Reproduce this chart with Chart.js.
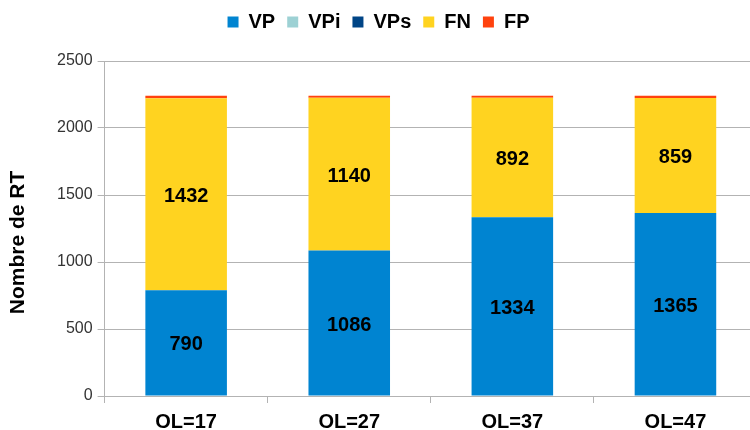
<!DOCTYPE html>
<html>
<head>
<meta charset="utf-8">
<script src="https://cdn.jsdelivr.net/npm/chart.js@4"></script>
<style>
    html, body { margin: 0; padding: 0; background: #fff; overflow: hidden; }
    #wrap { width: 750px; height: 430px; overflow: hidden; }
    #box { width: 757px; height: 430px; }
</style>
</head>
<body>
<div id="wrap"><div id="box"><canvas id="rtChart"></canvas></div></div>
<script>
"use strict";

// Categories and series
const CATEGORIES = ['OL=17', 'OL=27', 'OL=37', 'OL=47'];
const VP  = [790, 1086, 1334, 1365];
const VPI = [0, 0, 0, 0];
const VPS = [0, 0, 0, 0];
const FN  = [1432, 1140, 892, 859];
const FP  = [18, 14, 14, 16];
const Y_TICKS = [0, 500, 1000, 1500, 2000, 2500];
const Y_TITLE = 'Nombre de RT';

const FONT = '"Liberation Sans", Arial, sans-serif';
const LEGEND_HEIGHT = 61;
const TITLE_SPACE = 52;

// Value labels drawn in the middle of the big segments
const valueLabels = {
    id: 'valueLabels',
    afterDatasetsDraw(chart) {
        const ctx = chart.ctx;
        ctx.save();
        ctx.font = `bold 20px ${ FONT }`;
        ctx.fillStyle = '#000';
        ctx.textAlign = 'center';
        ctx.textBaseline = 'middle';
        chart.data.datasets.forEach((ds, i) => {
            if(!ds.showValues) return;
            chart.getDatasetMeta(i).data.forEach((bar, j) => {
                const y = (bar.y + bar.base) / 2;
                ctx.fillText(ds.data[j], bar.x, y + 2);
            });
        });
        ctx.restore();
    }
};

// Y axis title, sitting a little below the middle like the original
const yTitle = {
    id: 'yTitle',
    afterDraw(chart) {
        const ctx = chart.ctx;
        const area = chart.chartArea;
        ctx.save();
        ctx.translate(18, (area.top + area.bottom) / 2 + 14);
        ctx.rotate(-Math.PI / 2);
        ctx.font = `bold 21px ${ FONT }`;
        ctx.fillStyle = '#000';
        ctx.textAlign = 'center';
        ctx.textBaseline = 'middle';
        ctx.fillText(Y_TITLE, 0, 0);
        ctx.restore();
    }
};

// Give the legend a fixed height so the plot starts lower
const legendSpace = {
    id: 'legendSpace',
    beforeInit(chart) {
        const fit = chart.legend.fit;
        chart.legend.fit = function() {
            fit.call(this);
            this.height = LEGEND_HEIGHT;
        };
    }
};

const rtChart = new Chart(document.getElementById('rtChart').getContext('2d'), {
    type: 'bar',
    data: {
        labels: CATEGORIES,
        datasets: [
            { label: 'VP',  data: VP,  backgroundColor: '#0084d1', showValues: true },
            { label: 'VPi', data: VPI, backgroundColor: '#9dd1d4' },
            { label: 'VPs', data: VPS, backgroundColor: '#004586' },
            { label: 'FN',  data: FN,  backgroundColor: '#ffd320', showValues: true },
            { label: 'FP',  data: FP,  backgroundColor: '#ff420e' }
        ]
    },
    options: {
        responsive: true,
        maintainAspectRatio: false,
        animation: false,
        datasets: {
            bar: {
                categoryPercentage: 1,
                barPercentage: 0.5
            }
        },
        layout: {
            padding: { top: 0, left: 0, right: 0, bottom: -11 }
        },
        plugins: {
            legend: {
                position: 'top',
                labels: {
                    boxWidth: 11,
                    boxHeight: 11,
                    padding: 12,
                    color: '#000',
                    font: { family: FONT, size: 20, weight: 'bold' }
                }
            },
            tooltip: { enabled: false }
        },
        scales: {
            x: {
                stacked: true,
                grid: {
                    drawOnChartArea: false,
                    drawTicks: true,
                    tickLength: 7,
                    color: '#b3b3b3'
                },
                border: { color: '#b3b3b3' },
                ticks: {
                    color: '#000',
                    padding: 7,
                    font: { family: FONT, size: 20, weight: 'bold' }
                }
            },
            y: {
                stacked: true,
                min: Y_TICKS[0],
                max: Y_TICKS[Y_TICKS.length - 1],
                afterBuildTicks: axis => { axis.ticks = Y_TICKS.map(v => ({ value: v })); },
                afterFit: axis => { axis.width += TITLE_SPACE; },
                grid: {
                    color: '#b3b3b3',
                    tickLength: 7
                },
                border: { color: '#b3b3b3' },
                ticks: {
                    color: '#333',
                    padding: 5,
                    callback: value => String(value),
                    font: { family: FONT, size: 16 }
                }
            }
        }
    },
    plugins: [valueLabels, yTitle, legendSpace]
});
</script>
</body>
</html>
